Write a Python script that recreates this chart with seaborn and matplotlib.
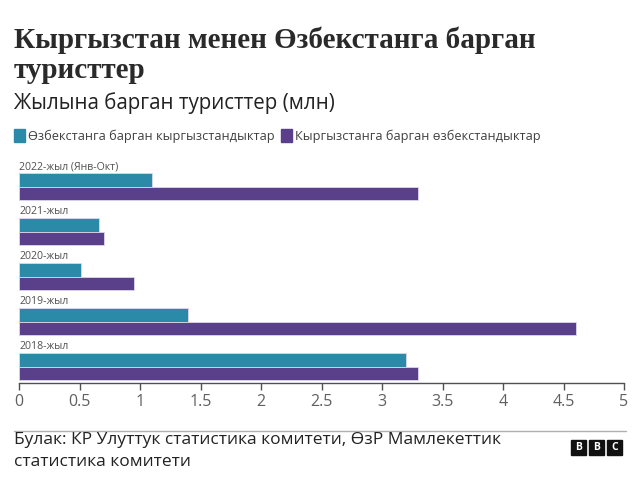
import pandas as pd
import seaborn as sns
import matplotlib.pyplot as plt
from matplotlib.patches import Rectangle

# данные
years = ['2022-жыл (Янв-Окт)', '2021-жыл', '2020-жыл', '2019-жыл', '2018-жыл']
kg_to_uz = [1.10, 0.66, 0.51, 1.40, 3.20]
uz_to_kg = [3.30, 0.70, 0.95, 4.60, 3.30]
series_names = ['Өзбекстанга барган кыргызстандыктар', 'Кыргызстанга барган өзбекстандыктар']
ticks = [0, 0.5, 1, 1.5, 2, 2.5, 3, 3.5, 4, 4.5, 5]
tick_labels = ['0', '0.5', '1', '1.5', '2', '2.5', '3', '3.5', '4', '4.5', '5']

df = pd.DataFrame({
    'Year': years * 2,
    'Value': kg_to_uz + uz_to_kg,
    'Series': [series_names[0]] * len(years) + [series_names[1]] * len(years),
})

sns.set_theme(style="white")
plt.rcParams['font.family'] = ['Open Sans', 'DejaVu Sans']

teal = '#2a8aa8'
purple = '#5a3f8a'

fig = plt.figure(figsize=(6.4, 4.82), dpi=100)
W, H = 640, 482
ax = fig.add_axes([19 / W, 1 - 383 / H, (624 - 19) / W, (383 - 158) / H])

sns.barplot(data=df, y='Year', x='Value', hue='Series', order=years,
            hue_order=series_names, palette=[teal, purple], orient='h', saturation=1,
            width=0.6, edgecolor='#dcd8ec', linewidth=0.6, legend=False, ax=ax)

ax.set_xlim(0, 5)
ax.set_ylim(4.36, -0.64)
ax.set_xlabel('')
ax.set_ylabel('')
ax.set_yticks([])
ax.set_xticks(ticks)
ax.set_xticklabels(tick_labels, fontsize=11.5, color='#606060')
ax.tick_params(axis='x', length=5, width=1, color='#505050', pad=3, bottom=True)
for s in ['top', 'right', 'left']:
    ax.spines[s].set_visible(False)
ax.spines['bottom'].set_color('#505050')
ax.spines['bottom'].set_linewidth(1)

# подписи годов над столбцами
for i, y in enumerate(years):
    ax.text(0.0, i - 0.44, y, fontsize=7.6, color='#505050', va='center', ha='left')

# заголовки
serif = ['Liberation Serif', 'DejaVu Serif']
fig.text(14 / W, 1 - 40 / H, 'Кыргызстан менен Өзбекстанга барган', fontsize=21,
         fontweight='semibold', family=serif, color='#2a2a2a', va='center')
fig.text(14 / W, 1 - 71 / H, 'туристтер', fontsize=21,
         fontweight='semibold', family=serif, color='#2a2a2a', va='center')
fig.text(14 / W, 1 - 103 / H, 'Жылына барган туристтер (млн)', fontsize=14.8,
         color='#222222', va='center')

# легенда
for x0, name, c in [(14, series_names[0], teal), (281, series_names[1], purple)]:
    fig.patches.append(Rectangle((x0 / W, 1 - 142 / H), 11 / W, 13 / H, color=c,
                                 transform=fig.transFigure))
    fig.text((x0 + 14) / W, 1 - 136 / H, name, fontsize=9.2, color='#404040', va='center')

# линия и источник
fig.add_artist(plt.Line2D([14 / W, 626 / W], [1 - 431 / H, 1 - 431 / H],
                          color='#b0b0b0', lw=1, transform=fig.transFigure))
fig.text(14 / W, 1 - 440 / H, 'Булак: КР Улуттук статистика комитети, ӨзР Мамлекеттик',
         fontsize=12.5, color='#222222', va='center')
fig.text(14 / W, 1 - 462 / H, 'статистика комитети', fontsize=12.5, color='#222222', va='center')

# логотип BBC
for k, letter in enumerate('BBC'):
    x0 = 571 + k * 18
    fig.patches.append(Rectangle((x0 / W, 1 - 455 / H), 15 / W, 15 / H, color='#111111',
                                 transform=fig.transFigure))
    fig.text((x0 + 7.5) / W, 1 - 447.5 / H, letter, fontsize=7.5, fontweight='bold',
             color='white', ha='center', va='center')

plt.savefig('out.png', dpi=100)
